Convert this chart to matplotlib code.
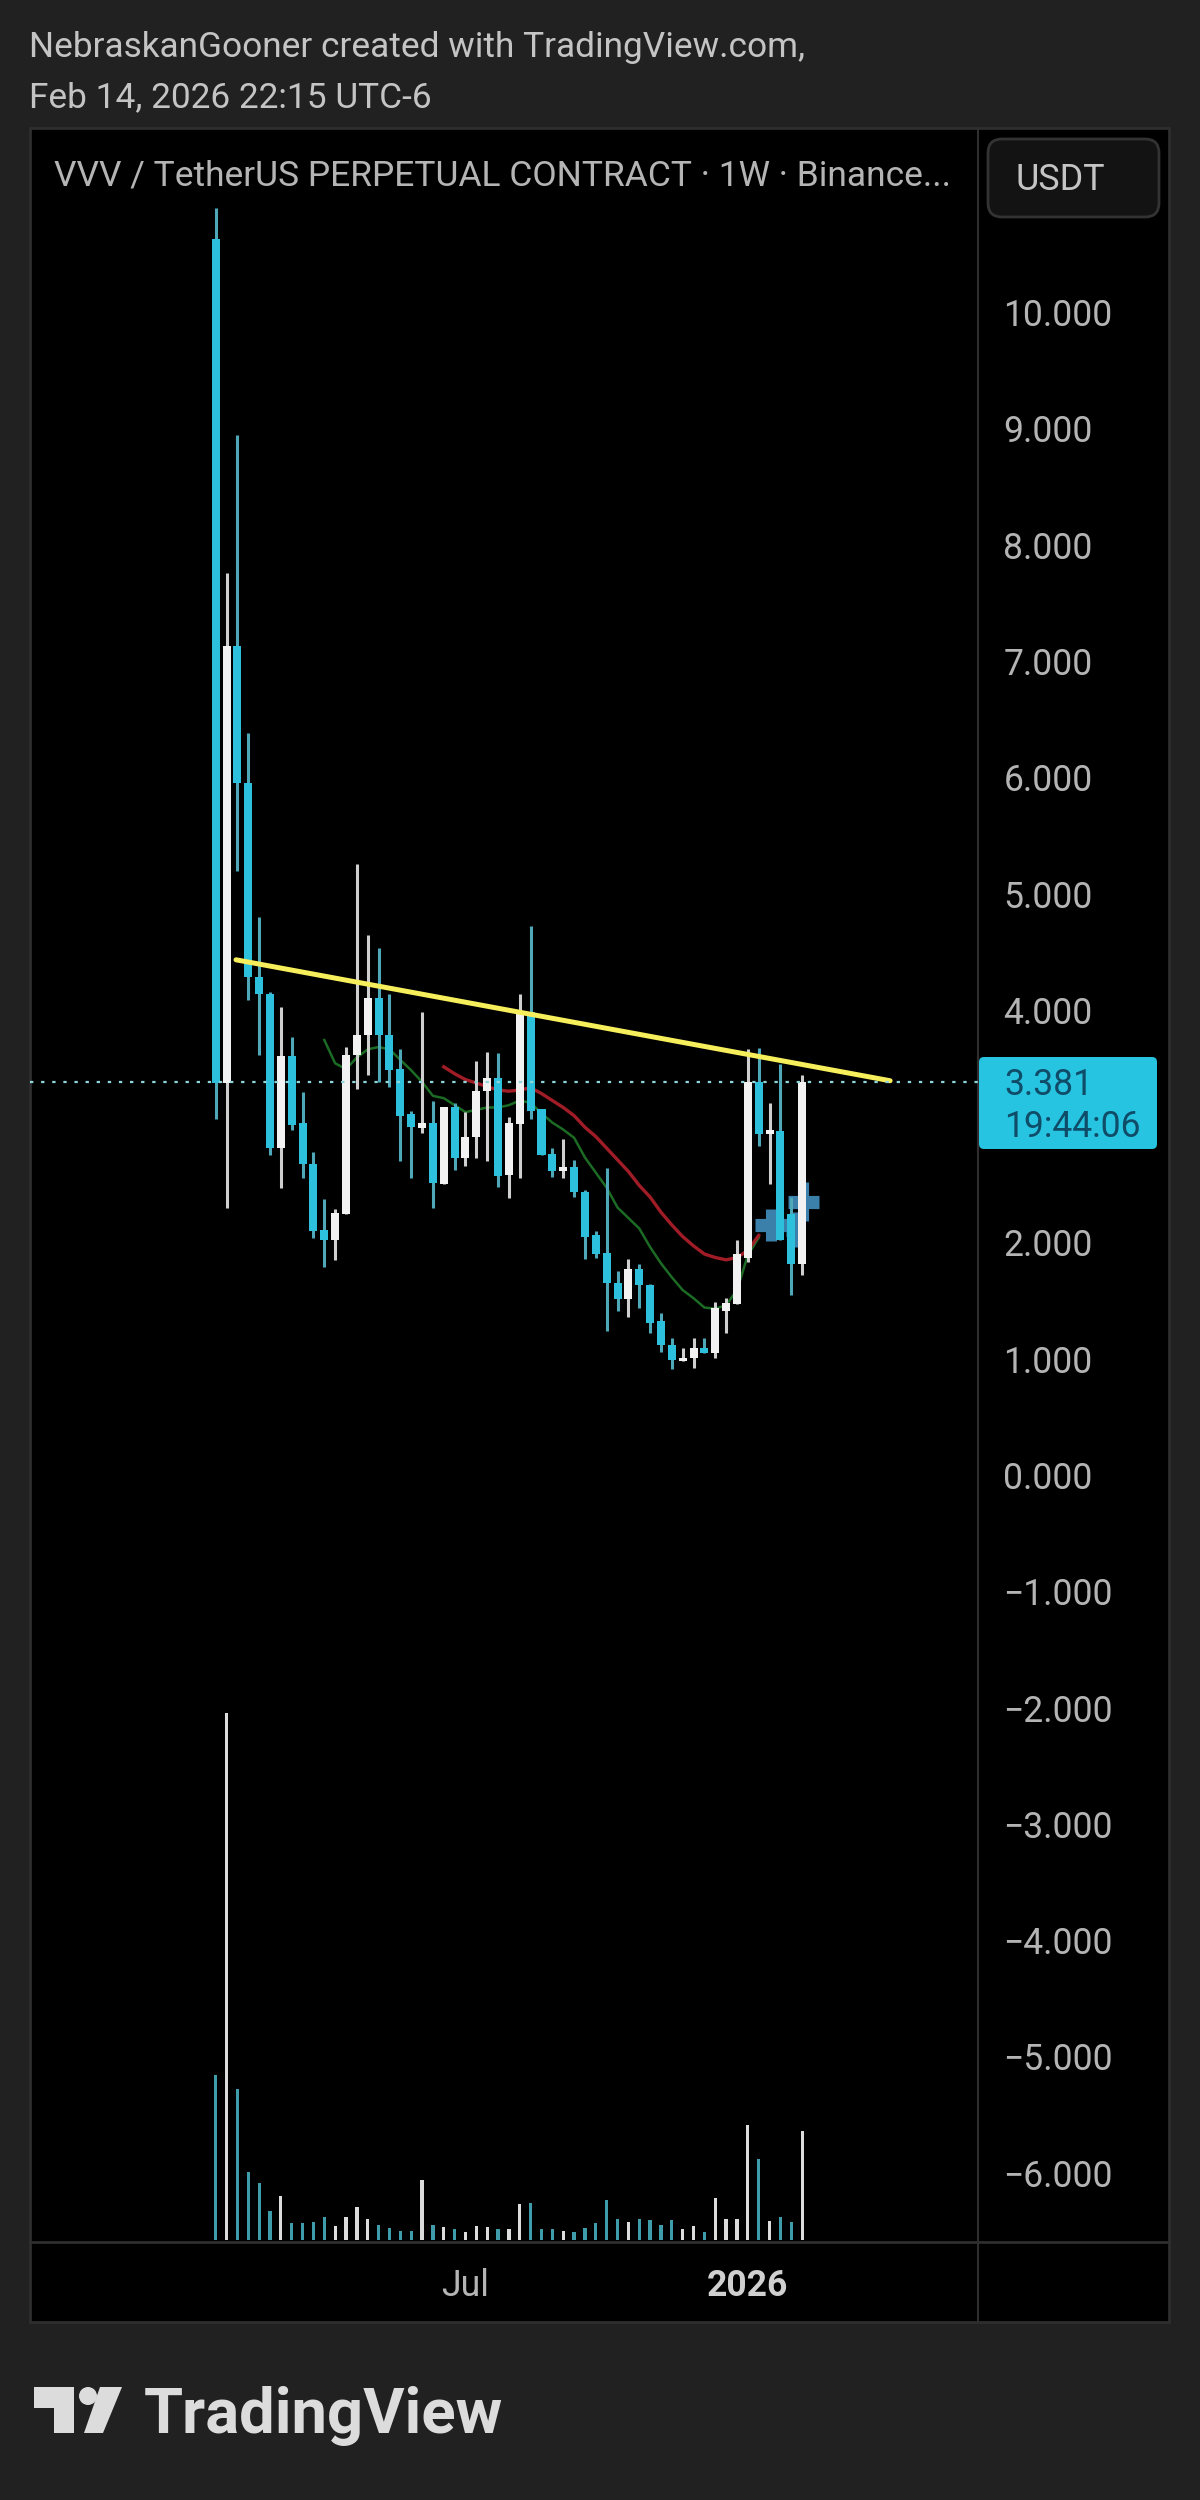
"""VVV perpetual weekly chart, TradingView dark snapshot."""
import matplotlib
matplotlib.use("Agg")
import matplotlib.pyplot as plt
from matplotlib.patches import Rectangle, FancyBboxPatch, Polygon, Circle

plt.rcParams["font.family"] = ["Roboto", "DejaVu Sans"]

# weekly candles
opens = [10.63, 3.37, 7.13, 5.95, 4.28, 4.14, 2.81, 3.60, 3.03, 2.67, 2.11, 2.02, 2.24, 3.61, 3.78,
         4.10, 3.78, 3.49, 3.10, 2.98, 3.03, 2.50, 3.16, 2.73, 2.91, 3.30, 3.41, 2.58, 3.02, 3.98,
         3.15, 2.76, 2.61, 2.65, 2.43, 2.06, 1.91, 1.65, 1.51, 1.77, 1.63, 1.32, 1.12, 0.98, 1.01,
         1.09, 1.05, 1.41, 1.47, 1.87, 3.38, 2.93, 2.96, 2.24, 1.81]
closes = [3.37, 7.13, 5.95, 4.28, 4.14, 2.81, 3.60, 3.01, 2.67, 2.10, 2.02, 2.25, 3.61, 3.78, 4.10,
          3.78, 3.48, 3.09, 2.99, 3.03, 2.51, 3.16, 2.73, 2.91, 3.30, 3.41, 2.57, 3.03, 3.97, 3.13,
          2.75, 2.61, 2.65, 2.43, 2.05, 1.90, 1.65, 1.51, 1.77, 1.63, 1.31, 1.12, 0.99, 1.01, 1.09,
          1.05, 1.44, 1.48, 1.90, 3.38, 2.93, 2.97, 2.02, 1.81, 3.381]
highs = [10.89, 7.76, 8.94, 6.38, 4.80, 4.15, 4.02, 3.77, 3.29, 2.78, 2.37, 2.29, 3.68, 5.25, 4.64,
         4.53, 4.14, 3.66, 3.13, 3.98, 3.22, 3.16, 3.20, 3.12, 3.56, 3.64, 3.63, 3.08, 4.14, 4.72,
         3.15, 2.81, 2.89, 2.71, 2.45, 2.10, 2.64, 1.75, 1.86, 1.81, 1.64, 1.39, 1.18, 1.09, 1.18,
         1.18, 1.49, 1.52, 2.02, 3.66, 3.67, 3.20, 3.53, 2.39, 3.44]
lows = [3.06, 2.30, 5.19, 4.08, 3.61, 2.75, 2.47, 2.97, 2.55, 2.04, 1.79, 1.85, 2.24, 3.32, 3.44,
        3.38, 3.34, 2.70, 2.55, 2.94, 2.30, 2.50, 2.62, 2.66, 2.73, 2.70, 2.48, 2.38, 2.55, 3.06,
        2.75, 2.56, 2.55, 2.39, 1.86, 1.87, 1.24, 1.41, 1.36, 1.44, 1.22, 1.06, 0.91, 0.98, 0.92,
        1.05, 1.01, 1.22, 1.47, 1.83, 2.83, 2.50, 2.02, 1.55, 1.72]
volumes = [165, 527, 151, 68, 57, 29, 44, 17, 17, 18, 23, 14, 23, 33, 21, 15, 12, 9, 9, 60, 15, 13,
           11, 8, 14, 13, 11, 11, 36, 37, 11, 11, 9, 8, 12, 17, 40, 21, 18, 21, 20, 15, 20, 11, 14,
           8, 42, 21, 21, 115, 81, 19, 23, 18, 109]

# moving averages, first bar index then one value per bar
fast_start = 10
fast_ma = [3.74, 3.54, 3.49, 3.59, 3.66, 3.68, 3.66, 3.57, 3.48, 3.38, 3.26, 3.24, 3.18, 3.12, 3.14,
           3.16, 3.16, 3.18, 3.22, 3.20, 3.11, 3.03, 2.97, 2.90, 2.73, 2.60, 2.47, 2.30, 2.21, 2.12,
           1.96, 1.82, 1.70, 1.59, 1.52, 1.44, 1.43, 1.46, 1.59, 1.89, 2.04]
slow_start = 21
slow_ma = [3.51, 3.45, 3.40, 3.37, 3.34, 3.31, 3.30, 3.31, 3.33, 3.28, 3.22, 3.16, 3.09, 2.99, 2.91,
           2.81, 2.71, 2.61, 2.49, 2.39, 2.26, 2.15, 2.05, 1.97, 1.90, 1.87, 1.85, 1.87, 1.93, 2.06]

# trendline and the blue plus markers
trend_x = [1.87, 62.1]
trend_y = [4.43, 3.39]
plus_x = [51.1, 54.1, 53.4]
plus_y = [2.15, 2.35, 2.11]
plus_dx = [1.47, 1.43, 0.9]
plus_dy = [0.14, 0.17, 0.15]

last_price = 3.381
countdown = "19:44:06"
# 3.000 sits under the last price tag, the scale does not show it
price_ticks = [-6, -5, -4, -3, -2, -1, 0, 1, 2, 4, 5, 6, 7, 8, 9, 10]
time_ticks = [23, 49]
time_labels = ["Jul", "2026"]

BG = "#212121"
BORDER = "#2e2e2e"
TEXT = "#c4c4c4"
UP = "#f2f2f2"
DOWN = "#2cc0dd"
UP_WICK = "#cfcfcf"
DOWN_WICK = "#4ea8b8"
UP_VOL = "#dcdcdc"
DOWN_VOL = "#3f9cab"
PLUS = "#3a80ab"

W, H = 1200, 2500
# pixel box of the price pane
PL, PR, PT, PB = 30, 978, 128, 2242
VOL_BASE, VOL_TOP = 2240, 1713


def box(left, top, right, bottom):
    return [left / W, 1 - bottom / H, (right - left) / W, (bottom - top) / H]


fig = plt.figure(figsize=(W / 100, H / 100), dpi=100, facecolor=BG)

# page furniture, in pixels
page = fig.add_axes([0, 0, 1, 1], zorder=0)
page.set_xlim(0, W)
page.set_ylim(H, 0)
page.axis("off")
page.add_patch(Rectangle((30, 128), 1139, 2194, fc="black", ec=BORDER, lw=2))
page.plot([978, 978], [128, 2322], color=BORDER, lw=1.5)
page.plot([30, 1169], [2242, 2242], color=BORDER, lw=2)
page.text(29, 57, "NebraskanGooner created with TradingView.com,", color=TEXT, fontsize=25.35, va="baseline")
page.text(29, 107, "Feb 14, 2026 22:15 UTC-6", color=TEXT, fontsize=25.35, va="baseline")
page.text(54, 185, "VVV / TetherUS PERPETUAL CONTRACT · 1W · Binance...", color="#b4b4b4", fontsize=25.45, va="baseline")
page.add_patch(FancyBboxPatch((996, 147), 155, 62, boxstyle="round,pad=8,rounding_size=14",
                              fc="#131313", ec="#333333", lw=2))
page.text(1016, 190, "USDT", color=TEXT, fontsize=25.8, va="baseline")

# logo
page.add_patch(Polygon([(34, 2387), (74, 2387), (74, 2433), (54, 2433), (54, 2408), (34, 2408)], fc="#dcdcdc"))
page.add_patch(Circle((88, 2396), 9, fc="#dcdcdc"))
page.add_patch(Polygon([(100, 2387), (122, 2387), (103, 2433), (84, 2433)], fc="#dcdcdc"))
page.text(144, 2433, "TradingView", color="#dcdcdc", fontsize=45.6, fontweight="bold", va="baseline")

# price pane
ax = fig.add_axes(box(PL, PT, PR, PB), zorder=2)
ax.patch.set_alpha(0)
ax.set_xlim((PL - 215.7) / 10.86, (PR - 215.7) / 10.86)
ax.set_ylim((1475 - PB) / 116.3, (1475 - PT) / 116.3)
for s in ax.spines.values():
    s.set_visible(False)

bars = list(range(len(closes)))
ax.plot(range(fast_start, fast_start + len(fast_ma)), fast_ma, color="#1c6b24", lw=1.8, zorder=1)
ax.plot(range(slow_start, slow_start + len(slow_ma)), slow_ma, color="#a01c26", lw=2.4, zorder=1)

for px, py, dx, dy in zip(plus_x, plus_y, plus_dx, plus_dy):
    ax.plot([px - dx, px + dx], [py, py], color=PLUS, lw=9.5, solid_capstyle="butt", zorder=2)
    ax.plot([px, px], [py - dy, py + dy], color=PLUS, lw=8, solid_capstyle="butt", zorder=2)

for i in bars:
    up = closes[i] >= opens[i]
    ax.vlines(i, lows[i], highs[i], color=UP_WICK if up else DOWN_WICK, lw=2.2, zorder=3)
    ax.bar(i, abs(closes[i] - opens[i]), bottom=min(opens[i], closes[i]), width=0.74,
           color=UP if up else DOWN, zorder=4, linewidth=0)

ax.plot(trend_x, trend_y, color="#f7ee5c", lw=3.6, solid_capstyle="round", zorder=5)
ax.axhline(last_price, color="#8fd6dc", lw=1.6, ls=(0, (1.5, 3.5)), zorder=6)

ax.yaxis.tick_right()
ax.set_yticks(price_ticks)
ax.set_yticklabels([f"{v:.3f}".replace("-", "\u2212") for v in price_ticks])
ax.tick_params(axis="y", length=0, pad=18.2, labelsize=25.6, labelcolor="#b4b4b4")
ax.set_xticks(time_ticks)
ax.set_xticklabels(time_labels)
ax.tick_params(axis="x", length=0, pad=19, labelsize=25.6, labelcolor="#b4b4b4")
ax.get_xticklabels()[1].set_fontweight("bold")
ax.get_xticklabels()[1].set_color("#d0d0d0")

# volume pane shares the bar positions
vol = fig.add_axes(box(PL, VOL_TOP, PR, VOL_BASE), zorder=3)
vol.patch.set_alpha(0)
vol.set_xlim(ax.get_xlim())
vol.set_ylim(0, max(volumes))
vol.axis("off")
vol_colors = [UP_VOL if c >= o else DOWN_VOL for o, c in zip(opens, closes)]
vol.bar(bars, volumes, width=0.3, color=vol_colors, linewidth=0)

# last price tag goes over the scale
over = fig.add_axes([0, 0, 1, 1], zorder=5)
over.set_xlim(0, W)
over.set_ylim(H, 0)
over.axis("off")
over.add_patch(FancyBboxPatch((983, 1061), 170, 84, boxstyle="round,pad=4,rounding_size=5", fc="#27c4e2", ec="none"))
over.text(1004, 1095, f"{last_price:.3f}", color="#0f4c68", fontsize=25.6, va="baseline")
over.text(1004, 1137, countdown, color="#0f4c68", fontsize=25.6, va="baseline")

fig.savefig("out.png", dpi=100, facecolor=BG)
